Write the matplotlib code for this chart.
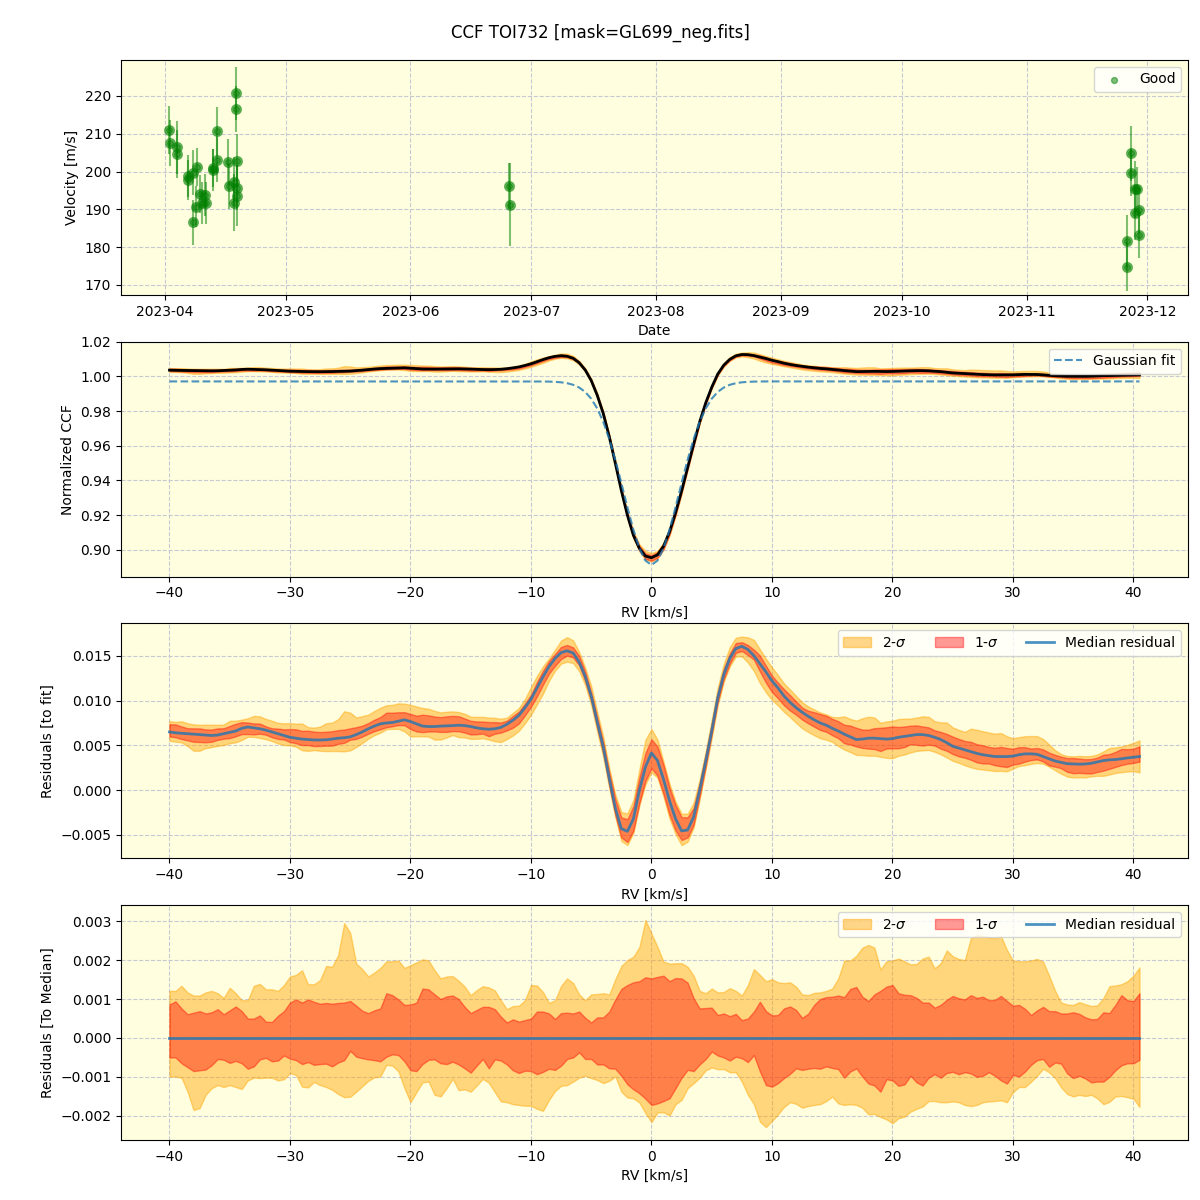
import numpy as np
import pandas as pd
import matplotlib
matplotlib.use("Agg")
import matplotlib.pyplot as plt
import matplotlib.dates as mdates

# --- RV time series (m/s) ---
obs_dates = [
    "2023-04-02 04:00", "2023-04-02 06:00", "2023-04-03 22:00", "2023-04-04 02:00",
    "2023-04-06 19:00", "2023-04-06 20:00", "2023-04-08 02:00", "2023-04-08 03:00",
    "2023-04-08 20:00", "2023-04-09 02:00", "2023-04-09 19:00", "2023-04-10 07:00",
    "2023-04-11 02:00", "2023-04-11 04:00", "2023-04-12 22:00", "2023-04-13 00:00",
    "2023-04-14 00:00", "2023-04-14 01:00", "2023-04-16 19:00", "2023-04-16 20:00",
    "2023-04-18 03:00", "2023-04-18 02:00", "2023-04-18 17:00", "2023-04-18 18:00",
    "2023-04-18 22:00", "2023-04-18 23:00", "2023-04-19 00:00",
    "2023-06-25 13:00", "2023-06-25 15:00",
    "2023-11-26 00:00", "2023-11-26 01:00", "2023-11-26 22:00", "2023-11-27 00:00",
    "2023-11-27 23:00", "2023-11-28 00:00", "2023-11-28 10:00", "2023-11-29 00:00",
    "2023-11-29 01:00",
]
rv_ms = [
    211.0, 207.5, 206.4, 204.6, 198.8, 197.8, 199.7, 186.6, 190.7, 201.1,
    194.0, 191.6, 193.8, 191.6, 200.4, 200.9, 210.7, 203.1, 202.5, 196.2,
    197.3, 191.8, 220.7, 216.5, 202.8, 195.7, 193.6,
    196.2, 191.2,
    181.5, 174.8, 204.8, 199.7, 195.3, 189.0, 195.3, 189.7, 183.2,
]
rv_err = [
    6.4, 6.0, 7.0, 6.3, 5.6, 5.3, 6.0, 6.0, 5.5, 5.0,
    5.0, 5.5, 5.5, 5.5, 5.5, 5.0, 6.5, 6.0, 6.0, 6.0,
    6.5, 7.5, 7.0, 6.0, 7.0, 6.0, 8.0,
    6.0, 11.0,
    7.0, 6.5, 7.2, 6.3, 7.5, 7.0, 6.0, 6.0, 6.0,
]

# --- CCF grid (km/s) ---
rv_kms = np.arange(-40.0, 40.51, 0.5)

gauss_core = [
    0.99705, 0.99699, 0.99685, 0.99658, 0.99607, 0.99515, 0.99358, 0.99103,
    0.98713, 0.98148, 0.97376, 0.96383, 0.95187, 0.93844, 0.92454, 0.91150,
    0.90075, 0.89370, 0.89120, 0.89370, 0.90075, 0.91150, 0.92454, 0.93844,
    0.95187, 0.96383, 0.97376, 0.98148, 0.98713, 0.99103, 0.99358, 0.99515,
    0.99607, 0.99658, 0.99685, 0.99699, 0.99705,
]
gauss_fit = [0.9971] * 62 + gauss_core + [0.9971] * 63

# median residual to the fit (units of 1e-3)
med_resid = [
    6.5, 6.4, 6.35, 6.3, 6.25, 6.2, 6.15, 6.1, 6.15, 6.3,
    6.45, 6.6, 6.9, 7.05, 6.95, 6.85, 6.7, 6.5, 6.3, 6.1,
    5.9, 5.8, 5.7, 5.65, 5.6, 5.6, 5.62, 5.7, 5.8, 5.85,
    5.95, 6.2, 6.5, 6.85, 7.15, 7.4, 7.5, 7.55, 7.7, 7.85,
    7.65, 7.4, 7.15, 7.1, 7.1, 7.15, 7.17, 7.2, 7.25, 7.2,
    7.1, 6.95, 6.85, 6.8, 6.85, 7.0, 7.35, 7.8, 8.35, 9.2,
    10.15, 11.4, 12.65, 13.8, 14.7, 15.35, 15.55, 15.3, 14.3, 12.7,
    10.5, 7.6, 4.8, 1.3, -2.0, -4.3, -4.6, -3.2, 0.0, 2.6,
    4.15, 3.3, 1.2, -1.2, -3.2, -4.55, -4.45, -3.0, 0.0, 3.2,
    6.6, 10.3, 12.9, 14.7, 15.8, 16.05, 15.7, 15.0, 14.1, 13.2,
    12.2, 11.4, 10.5, 9.8, 9.2, 8.7, 8.25, 7.85, 7.5, 7.25,
    6.9, 6.6, 6.25, 5.95, 5.65, 5.7, 5.8, 5.8, 5.75, 5.7,
    5.75, 5.9, 6.0, 6.1, 6.2, 6.2, 6.1, 5.9, 5.65, 5.3,
    4.9, 4.7, 4.5, 4.3, 4.1, 3.95, 3.85, 3.75, 3.75, 3.75,
    3.8, 3.95, 4.05, 4.05, 4.0, 3.75, 3.5, 3.25, 3.1, 2.95,
    2.92, 2.9, 2.92, 3.0, 3.15, 3.3, 3.38, 3.42, 3.5, 3.6,
    3.68, 3.75,
]

# band edges relative to the median (units of 1e-3)
hi2 = [
    1.21, 1.21, 1.34, 1.17, 1.09, 1.09, 1.17, 1.21, 1.15, 1.03,
    1.29, 1.15, 0.97, 0.97, 1.34, 1.39, 1.25, 1.25, 1.21, 1.36,
    1.58, 1.62, 1.74, 1.38, 1.38, 1.49, 1.85, 1.83, 2.13, 2.95,
    2.70, 1.91, 1.77, 1.58, 1.68, 1.80, 1.97, 1.97, 1.99, 1.80,
    1.87, 1.94, 2.02, 1.99, 1.74, 1.53, 1.58, 1.59, 1.47, 1.32,
    1.10, 1.23, 1.33, 1.30,
    1.22, 0.97, 0.74, 0.82, 0.83, 0.97, 1.36, 1.35, 1.18, 0.90,
    0.97, 1.34, 1.53, 1.41, 1.12, 0.97, 1.12, 1.13, 1.15, 1.12,
    1.51, 1.85, 2.00, 2.09, 2.34, 3.03, 2.68, 2.34, 1.96, 1.91,
    1.92, 1.92, 1.83, 1.60, 1.21, 1.15, 1.27, 1.17, 1.18, 1.28,
    1.21, 1.09, 1.36, 1.77, 1.62, 1.46, 1.51, 1.43, 1.41, 1.43,
    1.32, 1.12, 1.10, 1.16,
    1.17, 1.21, 1.27, 1.53, 1.99, 1.99, 2.11, 2.32, 2.39, 2.32,
    1.76, 1.97, 1.99, 2.04, 1.97, 1.89, 1.90, 2.04, 2.09, 1.79,
    1.92, 2.25, 2.10, 2.03, 2.00, 2.56, 2.64, 2.62, 2.58, 2.56,
    2.62, 2.26, 1.99, 1.97, 1.97, 1.99, 2.03, 1.96, 1.60, 1.21,
    0.91, 0.86, 0.85, 0.92, 0.87, 0.82, 0.84, 1.02, 1.33, 1.35,
    1.38, 1.46, 1.60, 1.81,
]
hi1 = [
    0.86, 0.94, 0.76, 0.61, 0.65, 0.69, 0.63, 0.66, 0.74, 0.61,
    0.71, 0.81, 0.69, 0.50, 0.50, 0.58, 0.42, 0.41, 0.57, 0.69,
    0.91, 0.99, 0.91, 0.99, 0.93, 0.88, 0.90, 0.88, 0.90, 0.91,
    0.95, 0.83, 0.70, 0.64, 0.71, 0.76, 1.15, 1.10, 0.99, 0.85,
    0.86, 0.91, 1.27, 1.25, 1.12, 1.00, 1.07, 1.09, 1.00, 0.80,
    0.64, 0.72, 0.80, 0.80,
    0.74, 0.55, 0.40, 0.48, 0.42, 0.46, 0.50, 0.68, 0.68, 0.63,
    0.49, 0.64, 0.65, 0.63, 0.68, 0.52, 0.40, 0.53, 0.53, 0.68,
    0.99, 1.26, 1.36, 1.43, 1.46, 1.56, 1.53, 1.57, 1.60, 1.46,
    1.54, 1.53, 1.42, 1.02, 0.76, 0.77, 0.78, 0.59, 0.63, 0.56,
    0.62, 0.46, 0.50, 0.68, 0.93, 0.69, 0.58, 0.59, 0.76, 0.81,
    0.72, 0.52, 0.62, 0.85,
    1.00, 1.05, 1.06, 1.09, 1.05, 1.26, 1.31, 1.06, 0.95, 1.12,
    1.21, 1.32, 1.36, 1.15, 1.11, 1.10, 1.03, 0.91, 0.91, 0.78,
    0.85, 0.98, 1.08, 1.02, 0.99, 1.10, 1.03, 1.06, 0.97, 0.98,
    1.08, 0.95, 0.83, 0.85, 0.75, 0.59, 0.71, 0.80, 0.69, 0.69,
    0.63, 0.63, 0.66, 0.62, 0.53, 0.48, 0.49, 0.66, 0.64, 0.85,
    1.10, 0.97, 0.95, 1.15,
]
lo1 = [
    -0.50, -0.50, -0.65, -0.75, -0.85, -0.83, -0.81, -0.70, -0.54, -0.56,
    -0.64, -0.59, -0.65, -0.79, -0.73, -0.55, -0.51, -0.60, -0.58, -0.45,
    -0.53, -0.57, -0.67, -0.62, -0.69, -0.67, -0.66, -0.73, -0.63, -0.57,
    -0.33, -0.48, -0.52, -0.55, -0.57, -0.60, -0.48, -0.42, -0.44, -0.60,
    -0.83, -0.85, -0.67, -0.56, -0.55, -0.65, -0.67, -0.61, -0.68, -0.78,
    -0.89, -0.71, -0.54, -0.78,
    -0.55, -0.58, -0.68, -0.83, -0.90, -0.84, -0.85, -0.93, -0.87, -0.79,
    -0.82, -0.71, -0.54, -0.50, -0.37, -0.54, -0.54, -0.68, -0.68, -0.78,
    -0.79, -0.97, -1.19, -1.32, -1.42, -1.56, -1.72, -1.68, -1.62, -1.55,
    -1.29, -1.02, -0.82, -0.85, -0.68, -0.54, -0.35, -0.45, -0.50, -0.58,
    -0.48, -0.52, -0.62, -0.44, -0.86, -1.21, -1.25, -1.16, -1.03, -0.92,
    -0.78, -0.82, -0.79, -0.77,
    -0.79, -0.73, -0.77, -0.80, -1.02, -0.86, -0.78, -0.99, -1.17, -1.22,
    -1.38, -1.06, -1.09, -1.23, -1.19, -0.97, -1.14, -1.22, -1.02, -0.93,
    -1.02, -0.90, -0.87, -0.93, -0.88, -0.91, -1.00, -0.97, -0.88, -0.97,
    -1.09, -1.17, -0.95, -0.99, -0.86, -0.69, -0.57, -0.54, -0.74, -0.63,
    -0.66, -0.91, -1.03, -0.97, -1.04, -1.14, -1.12, -1.12, -1.00, -0.83,
    -0.70, -0.65, -0.65, -0.56,
]
lo2 = [
    -0.99, -0.99, -1.02, -1.38, -1.85, -1.80, -1.46, -1.29, -1.21, -1.26,
    -1.21, -1.26, -1.31, -1.09, -1.02, -1.03, -1.02, -1.02, -1.09, -1.06,
    -0.90, -0.95, -1.25, -1.27, -1.13, -1.21, -1.26, -1.33, -1.44, -1.52,
    -1.51, -1.38, -1.24, -1.10, -1.01, -0.99, -0.69, -0.71, -0.86, -1.29,
    -1.65, -1.39, -1.14, -1.12, -1.46, -1.50, -1.29, -1.05, -1.34, -1.32,
    -1.38, -1.22, -1.05, -1.15,
    -1.39, -1.63, -1.65, -1.70, -1.72, -1.74, -1.74, -1.82, -1.87, -1.59,
    -1.36, -1.23, -1.21, -1.12, -1.02, -0.97, -1.03, -1.08, -1.16, -1.10,
    -0.99, -1.38, -1.53, -1.55, -1.66, -1.93, -2.16, -1.91, -1.91, -1.99,
    -1.70, -1.59, -1.29, -1.16, -1.02, -0.83, -0.76, -0.80, -0.80, -0.88,
    -0.88, -1.12, -1.46, -1.70, -2.15, -2.29, -2.13, -1.96, -1.77, -1.65,
    -1.69, -1.79, -1.75, -1.72,
    -1.70, -1.62, -1.51, -1.68, -1.72, -1.70, -1.72, -1.79, -1.96, -1.95,
    -2.03, -2.09, -2.19, -2.06, -2.02, -1.89, -1.82, -1.76, -1.62, -1.62,
    -1.65, -1.65, -1.63, -1.65, -1.72, -1.75, -1.72, -1.65, -1.63, -1.62,
    -1.60, -1.65, -1.39, -1.26, -1.26, -1.12, -0.97, -0.79, -0.88, -1.03,
    -1.27, -1.44, -1.50, -1.46, -1.49, -1.46, -1.55, -1.70, -1.64, -1.50,
    -1.49, -1.52, -1.56, -1.77,
]

BG = "lightyellow"
GRID = dict(visible=True, linestyle="--", color="#c8c8d2", linewidth=0.8)
C2 = "orange"
C1 = "red"

dates = pd.to_datetime(obs_dates)
gfit = np.array(gauss_fit)
med = np.array(med_resid) * 1e-3
u2, u1 = np.array(hi2) * 1e-3, np.array(hi1) * 1e-3
l1, l2 = np.array(lo1) * 1e-3, np.array(lo2) * 1e-3
ccf = gfit + med

fig, axes = plt.subplots(4, 1, figsize=(12, 12))
fig.subplots_adjust(left=0.1008, right=0.99, top=0.95, bottom=0.05, hspace=0.2)
fig.suptitle("CCF TOI732 [mask=GL699_neg.fits]", fontsize=12, y=0.9805)

for ax in axes:
    ax.set_facecolor(BG)
    ax.grid(**GRID)
    ax.set_axisbelow(True)

# Panel 1: RV time series
ax = axes[0]
ax.errorbar(dates, rv_ms, yerr=rv_err, fmt="o", color="green", alpha=0.5,
            ms=7, elinewidth=1.5, capsize=0)
ax.scatter(dates, rv_ms, s=18, color="green", alpha=0.5, label="Good", zorder=3)
ax.xaxis.set_major_locator(mdates.MonthLocator())
ax.xaxis.set_major_formatter(mdates.DateFormatter("%Y-%m"))
ax.set_ylim(167.4, 229.5)
ax.set_xlabel("Date")
ax.set_ylabel("Velocity [m/s]")
ax.legend(loc="upper right")

# Panel 2: normalized CCF
ax = axes[1]
ax.fill_between(rv_kms, ccf + l2, ccf + u2, color=C2, alpha=0.45)
ax.fill_between(rv_kms, ccf + l1, ccf + u1, color=C1, alpha=0.4)
ax.plot(rv_kms, ccf, color="black", lw=2)
ax.plot(rv_kms, gfit, "--", color="tab:blue", alpha=0.8, lw=1.5, label="Gaussian fit")
ax.set_ylim(0.8845, 1.02)
ax.set_xlabel("RV [km/s]")
ax.set_ylabel("Normalized CCF")
ax.legend(loc="upper right")

# Panel 3: residuals to fit
ax = axes[2]
ax.fill_between(rv_kms, med + l2, med + u2, color=C2, alpha=0.45, label=r"2-$\sigma$")
ax.fill_between(rv_kms, med + l1, med + u1, color=C1, alpha=0.4, label=r"1-$\sigma$")
ax.plot(rv_kms, med, color="tab:blue", alpha=0.8, lw=2, label="Median residual")
ax.set_ylim(-0.0076, 0.0186)
ax.set_xlabel("RV [km/s]")
ax.set_ylabel("Residuals [to fit]")
ax.legend(loc="upper right", ncol=3)

# Panel 4: residuals to median
ax = axes[3]
ax.fill_between(rv_kms, l2, u2, color=C2, alpha=0.45, label=r"2-$\sigma$")
ax.fill_between(rv_kms, l1, u1, color=C1, alpha=0.4, label=r"1-$\sigma$")
ax.plot(rv_kms, med - med, color="tab:blue", alpha=0.8, lw=2, label="Median residual")
ax.set_ylim(-0.00262, 0.00341)
ax.set_xlabel("RV [km/s]")
ax.set_ylabel("Residuals [To Median]")
ax.legend(loc="upper right", ncol=3)

fig.savefig("out.png", dpi=100)
